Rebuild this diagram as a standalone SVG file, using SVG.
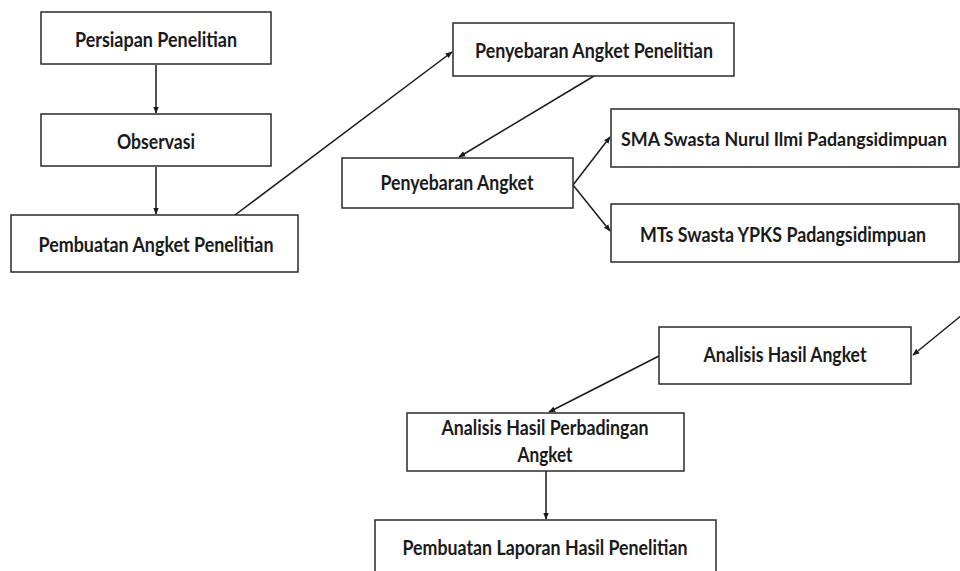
<svg xmlns="http://www.w3.org/2000/svg" width="960" height="571" viewBox="0 0 960 571">
<style>
.box{fill:#fff;stroke:#2a2a2a;stroke-width:1.5}
.t{font-family:Lato,"Liberation Sans",sans-serif;font-weight:bold;font-size:20px;fill:#1a1a1a;text-anchor:middle}
.c{stroke:#1a1a1a;stroke-width:1.5;fill:none;marker-end:url(#ah)}
</style>
<defs>
<marker id="ah" viewBox="0 0 10 10" refX="9" refY="5" markerWidth="7" markerHeight="7" markerUnits="userSpaceOnUse" orient="auto">
<path d="M0,1 L10,5 L0,9 z" fill="#1a1a1a"/>
</marker>
</defs>
<rect width="960" height="571" fill="#fff"/>
<g id="connectors">
<line class="c" x1="156" y1="65" x2="156" y2="113"/>
<line class="c" x1="156" y1="167" x2="156" y2="214"/>
<line class="c" x1="235" y1="215" x2="452" y2="52"/>
<line class="c" x1="594" y1="76" x2="459" y2="157"/>
<line class="c" x1="573" y1="185" x2="610" y2="137"/>
<line class="c" x1="573" y1="185" x2="610" y2="231"/>
<line class="c" x1="962" y1="315" x2="913" y2="355"/>
<line class="c" x1="659" y1="356" x2="549" y2="412"/>
<line class="c" x1="546" y1="471" x2="546" y2="519"/>
</g>
<g id="n1"><rect class="box" x="41" y="12" width="230" height="52"/><text class="t" x="156" y="47" textLength="162" lengthAdjust="spacingAndGlyphs">Persiapan Penelitian</text></g>
<g id="n2"><rect class="box" x="41" y="114" width="230" height="52"/><text class="t" x="156" y="149" textLength="78" lengthAdjust="spacingAndGlyphs">Observasi</text></g>
<g id="n3"><rect class="box" x="11" y="215" width="287" height="57"/><text class="t" x="156" y="252" textLength="235" lengthAdjust="spacingAndGlyphs">Pembuatan Angket Penelitian</text></g>
<g id="n4"><rect class="box" x="453" y="23" width="281" height="53"/><text class="t" x="594" y="58" textLength="238" lengthAdjust="spacingAndGlyphs">Penyebaran Angket Penelitian</text></g>
<g id="n5"><rect class="box" x="342" y="158" width="231" height="50"/><text class="t" x="457" y="190" textLength="153" lengthAdjust="spacingAndGlyphs">Penyebaran Angket</text></g>
<g id="n6"><rect class="box" x="611" y="109" width="348" height="58"/><text class="t" x="784" y="146" style="font-size:18px" textLength="326" lengthAdjust="spacingAndGlyphs">SMA Swasta Nurul Ilmi Padangsidimpuan</text></g>
<g id="n7"><rect class="box" x="611" y="204" width="348" height="58"/><text class="t" x="783" y="242" textLength="286" lengthAdjust="spacingAndGlyphs">MTs Swasta YPKS Padangsidimpuan</text></g>
<g id="n8"><rect class="box" x="659" y="327" width="252" height="57"/><text class="t" x="785" y="362" textLength="163" lengthAdjust="spacingAndGlyphs">Analisis Hasil Angket</text></g>
<g id="n9"><rect class="box" x="407" y="413" width="277" height="58"/><text class="t" x="545" y="435" textLength="207" lengthAdjust="spacingAndGlyphs">Analisis Hasil Perbadingan</text><text class="t" x="545" y="462" textLength="55" lengthAdjust="spacingAndGlyphs">Angket</text></g>
<g id="n10"><rect class="box" x="375" y="520" width="341" height="70"/><text class="t" x="545" y="555" textLength="285" lengthAdjust="spacingAndGlyphs">Pembuatan Laporan Hasil Penelitian</text></g>
</svg>
